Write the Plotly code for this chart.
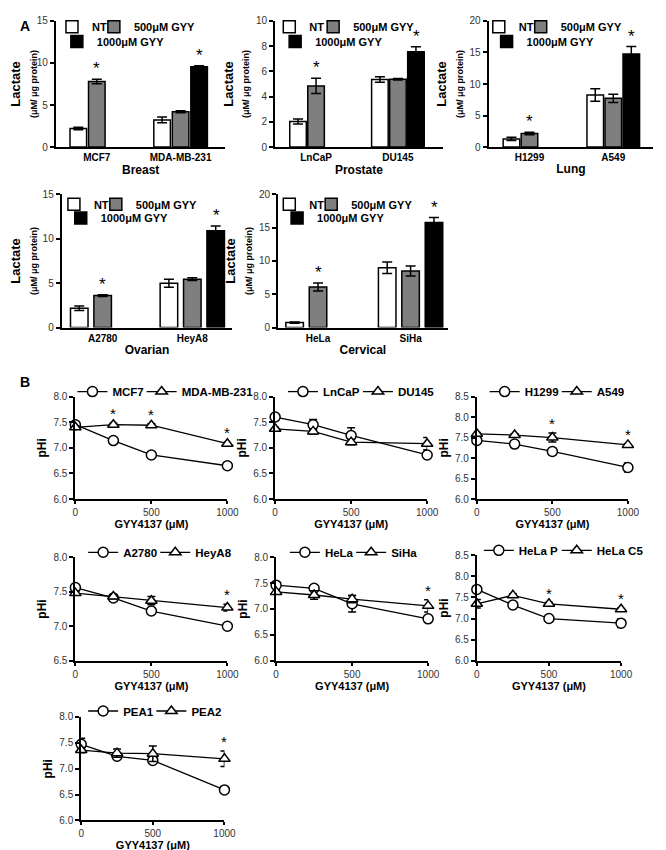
import plotly.graph_objects as go

W, H = 666, 850

# ---------------- Panel A data (lactate, µM/µg protein) ----------------
treatments = ["NT", "500μM GYY", "1000μM GYY"]
bar_colors = ["white", "#7f7f7f", "black"]

breast_cells = ["MCF7", "MDA-MB-231"]
breast_mean = [[2.22, 3.23], [7.79, 4.2], [None, 9.54]]
breast_sem = [[0.15, 0.35], [0.27, 0.12], [None, 0.12]]
breast_sig = [[0, 0], [1, 0], [0, 1]]

prostate_cells = ["LnCaP", "DU145"]
prostate_mean = [[2.03, 5.35], [4.85, 5.37], [None, 7.55]]
prostate_sem = [[0.2, 0.22], [0.6, 0.06], [None, 0.4]]
prostate_sig = [[0, 0], [1, 0], [0, 1]]

lung_cells = ["H1299", "A549"]
lung_mean = [[1.3, 8.25], [2.16, 7.73], [None, 14.74]]
lung_sem = [[0.25, 1.0], [0.2, 0.65], [None, 1.2]]
lung_sig = [[0, 0], [1, 0], [0, 1]]

ovarian_cells = ["A2780", "HeyA8"]
ovarian_mean = [[2.17, 5.0], [3.6, 5.45], [None, 10.9]]
ovarian_sem = [[0.26, 0.45], [0.1, 0.15], [None, 0.55]]
ovarian_sig = [[0, 0], [1, 0], [0, 1]]

cervical_cells = ["HeLa", "SiHa"]
cervical_mean = [[0.74, 8.98], [6.1, 8.49], [None, 15.78]]
cervical_sem = [[0.1, 0.85], [0.6, 0.75], [None, 0.75]]
cervical_sig = [[0, 0], [1, 0], [0, 1]]

tissue_names = ["Breast", "Prostate", "Lung", "Ovarian", "Cervical"]
a_ymax = [15, 10, 20, 15, 20]
a_dtick = [5, 2, 5, 5, 5]

# ---------------- Panel B data (pHi) ----------------
doses = [0, 250, 500, 1000]

mcf7_phi = [7.45, 7.14, 6.86, 6.65];   mcf7_err = [0.03, 0.03, 0.03, 0.03]
mda_phi = [7.40, 7.45, 7.44, 7.08];    mda_err = [0.03, 0.03, 0.03, 0.03]
mda_sig = [0, 1, 1, 1]

lncap_phi = [7.60, 7.45, 7.24, 6.86];  lncap_err = [0.04, 0.10, 0.15, 0.04]
du145_phi = [7.37, 7.32, 7.11, 7.08];  du145_err = [0.03, 0.05, 0.05, 0.12]
du145_sig = [0, 0, 0, 0]

h1299_phi = [7.43, 7.34, 7.16, 6.77];  h1299_err = [0.03, 0.03, 0.08, 0.11]
a549_phi = [7.59, 7.56, 7.50, 7.32];   a549_err = [0.03, 0.03, 0.11, 0.03]
a549_sig = [0, 0, 1, 1]

a2780_phi = [7.56, 7.41, 7.22, 7.00];  a2780_err = [0.02, 0.02, 0.02, 0.02]
heya8_phi = [7.48, 7.43, 7.37, 7.27];  heya8_err = [0.03, 0.03, 0.06, 0.05]
heya8_sig = [0, 0, 0, 1]

hela_phi = [7.46, 7.40, 7.10, 6.81];   hela_err = [0.03, 0.03, 0.16, 0.03]
siha_phi = [7.33, 7.27, 7.19, 7.06];   siha_err = [0.03, 0.08, 0.07, 0.12]
siha_sig = [0, 0, 0, 1]

helap_phi = [7.69, 7.32, 7.00, 6.89];  helap_err = [0.03, 0.08, 0.03, 0.10]
helac5_phi = [7.35, 7.55, 7.35, 7.22]; helac5_err = [0.10, 0.03, 0.03, 0.03]
helac5_sig = [0, 0, 1, 1]

pea1_phi = [7.47, 7.24, 7.16, 6.59];   pea1_err = [0.12, 0.03, 0.05, 0.03]
pea2_phi = [7.36, 7.30, 7.29, 7.19];   pea2_err = [0.05, 0.08, 0.15, 0.15]
pea2_sig = [0, 0, 0, 1]

b_yrange = [(6.0, 8.0), (6.0, 8.0), (6.0, 8.5), (6.5, 8.0), (6.0, 8.0), (6.0, 8.5), (6.0, 8.0)]

# ---------------- layout geometry (pixels) ----------------
# (axis left, axis right, top, bottom, centre of group 1, centre of group 2, bar pitch, bar width)
A_geom = [(44, 218, 7, 135, 86, 172, 19, 17),
          (269, 441, 7, 135, 311, 395, 18.5, 17),
          (488, 657, 7, 135, 530, 616, 18.5, 17),
          (50, 225, 183, 318, 92, 184, 24, 18),
          (272, 446, 183, 318, 313, 408, 24, 18)]
# legend symbol centres: (NT x, 500 x, row-1 y, 1000 x, row-2 y)
A_leg = [(60, 103, 13, 65, 28),
         (283, 328, 13, 289, 28),
         (498, 541, 13, 506, 28),
         (62, 105, 193, 69, 207),
         (283, 326, 193, 291, 207)]
B_boxes = [(64, 220, 388, 492), (269, 425, 388, 492), (476, 631, 388, 492),
           (64, 220, 551, 656), (270, 426, 551, 656), (476, 624, 549, 656),
           (70, 217, 713, 818)]
# legend symbol centres: (series 1 x, series 2 x, y)
B_leg = [(81, 152, 383), (297, 374, 383), (504, 578, 383),
         (92, 166, 546), (299, 367, 546), (498, 578, 544), (92, 162, 707)]

FONT = "Liberation Sans, Arial, sans-serif"


def fx(x):
    return x / W


def fy(y):
    return 1 - y / H


fig = go.Figure()
annotations = []
layout = {}
leg_count = [0]


def new_legend(cx, cy, size=12):
    leg_count[0] += 1
    name = "legend" if leg_count[0] == 1 else f"legend{leg_count[0]}"
    layout[name] = dict(x=fx(cx - 20), y=fy(cy), xanchor="left", yanchor="middle",
                        orientation="h", bgcolor="rgba(0,0,0,0)", itemwidth=30,
                        font=dict(family=FONT, size=size, color="black", weight="bold"),
                        itemclick=False, itemdoubleclick=False)
    return name


A_sets = [
    (breast_cells, breast_mean, breast_sem, breast_sig),
    (prostate_cells, prostate_mean, prostate_sem, prostate_sig),
    (lung_cells, lung_mean, lung_sem, lung_sig),
    (ovarian_cells, ovarian_mean, ovarian_sem, ovarian_sig),
    (cervical_cells, cervical_mean, cervical_sem, cervical_sig),
]

axis_common = dict(showline=True, linewidth=2, linecolor="black", showgrid=False,
                   zeroline=False, ticks="outside", ticklen=4, tickwidth=1.5,
                   tickcolor="black", tickfont=dict(family=FONT, size=10, color="#333"))

for i, (cells, means, sems, sigs) in enumerate(A_sets):
    ax = i + 1
    xa = "x" if ax == 1 else f"x{ax}"
    ya = "y" if ax == 1 else f"y{ax}"
    x0, x1, y0, y1, c1, c2, pitch, bw = A_geom[i]
    unit = c2 - c1  # pixels per category
    lx = A_leg[i]
    leg_pos = [(lx[0], lx[2]), (lx[1], lx[2]), (lx[3], lx[4])]
    for t in range(3):
        fig.add_trace(go.Bar(
            x=cells, y=means[t], name=treatments[t], xaxis=xa, yaxis=ya,
            offset=((t - 1) * pitch - bw / 2) / unit, width=bw / unit,
            marker=dict(color=bar_colors[t], line=dict(color="black", width=1.5)),
            error_y=dict(type="data", array=sems[t], color="black", thickness=1.5, width=5),
            legend=new_legend(*leg_pos[t], size=11),
        ))
    key = "" if ax == 1 else str(ax)
    layout["xaxis" + key] = dict(axis_common, domain=[fx(x0), fx(x1)], anchor=ya,
                                 type="category", ticks="",
                                 range=[-(c1 - x0) / unit, 1 + (x1 - c2) / unit],
                                 tickfont=dict(family=FONT, size=10, color="black", weight="bold"),
                                 title=dict(text=tissue_names[i], standoff=3,
                                            font=dict(family=FONT, size=12, color="black", weight="bold")))
    layout["yaxis" + key] = dict(axis_common, domain=[fy(y1), fy(y0)], anchor=xa,
                                 range=[0, a_ymax[i]], dtick=a_dtick[i],
                                 title=dict(text="<b>Lactate</b><br><span style='font-size:9px'><b>(μM/ μg protein)</b></span>",
                                            standoff=3,
                                            font=dict(family=FONT, size=13, color="black")))
    for t in range(3):
        for c, cell in enumerate(cells):
            if sigs[t][c]:
                annotations.append(dict(
                    xref=xa, yref=ya, x=cell, y=means[t][c] + sems[t][c],
                    xshift=(t - 1) * pitch, yshift=-1, yanchor="bottom",
                    text="*", showarrow=False,
                    font=dict(family=FONT, size=17, color="black")))

B_sets = [
    ("MCF7", mcf7_phi, mcf7_err, "MDA-MB-231", mda_phi, mda_err, mda_sig),
    ("LnCaP", lncap_phi, lncap_err, "DU145", du145_phi, du145_err, du145_sig),
    ("H1299", h1299_phi, h1299_err, "A549", a549_phi, a549_err, a549_sig),
    ("A2780", a2780_phi, a2780_err, "HeyA8", heya8_phi, heya8_err, heya8_sig),
    ("HeLa", hela_phi, hela_err, "SiHa", siha_phi, siha_err, siha_sig),
    ("HeLa P", helap_phi, helap_err, "HeLa C5", helac5_phi, helac5_err, helac5_sig),
    ("PEA1", pea1_phi, pea1_err, "PEA2", pea2_phi, pea2_err, pea2_sig),
]

for j, (n1, v1, e1, n2, v2, e2, sig) in enumerate(B_sets):
    ax = 6 + j
    xa, ya = f"x{ax}", f"y{ax}"
    x0, x1, y0, y1 = B_boxes[j]
    lp = B_leg[j]
    for name, vals, errs, sym, lx in ((n1, v1, e1, "circle", lp[0]),
                                      (n2, v2, e2, "triangle-up", lp[1])):
        fig.add_trace(go.Scatter(
            x=doses, y=vals, name=name, xaxis=xa, yaxis=ya, mode="lines+markers",
            line=dict(color="black", width=1.3),
            marker=dict(symbol=sym, size=10, color="white",
                        line=dict(color="black", width=1.5)),
            error_y=dict(type="data", array=errs, color="black", thickness=1.5, width=4),
            cliponaxis=False, legend=new_legend(lx, lp[2], size=11.5),
        ))
    layout[f"xaxis{ax}"] = dict(axis_common, domain=[fx(x0), fx(x1)], anchor=ya,
                                range=[0, 1000], tickvals=[0, 500, 1000], ticklen=3,
                                title=dict(text="GYY4137 (μM)", standoff=0,
                                           font=dict(family=FONT, size=11, color="black", weight="bold")))
    layout[f"yaxis{ax}"] = dict(axis_common, domain=[fy(y1), fy(y0)], anchor=xa,
                                range=list(b_yrange[j]), dtick=0.5, tickformat=".1f",
                                title=dict(text="pHi", standoff=4,
                                           font=dict(family=FONT, size=12, color="black", weight="bold")))
    for k, s in enumerate(sig):
        if s:
            annotations.append(dict(
                xref=xa, yref=ya, x=doses[k], y=v2[k] + e2[k], yshift=-1, yanchor="bottom",
                text="*", showarrow=False, font=dict(family=FONT, size=15, color="black")))

annotations.append(dict(xref="paper", yref="paper", x=fx(5), y=fy(12), xanchor="left",
                        yanchor="middle", text="<b>A</b>", showarrow=False,
                        font=dict(family=FONT, size=14, color="black")))
annotations.append(dict(xref="paper", yref="paper", x=fx(5), y=fy(373), xanchor="left",
                        yanchor="middle", text="<b>B</b>", showarrow=False,
                        font=dict(family=FONT, size=14, color="black")))

fig.update_layout(
    width=W, height=H, margin=dict(l=0, r=0, t=0, b=0),
    paper_bgcolor="white", plot_bgcolor="white",
    barmode="group", showlegend=True, annotations=annotations,
    font=dict(family=FONT, color="black"),
    **layout,
)

fig.write_html("out.html")
